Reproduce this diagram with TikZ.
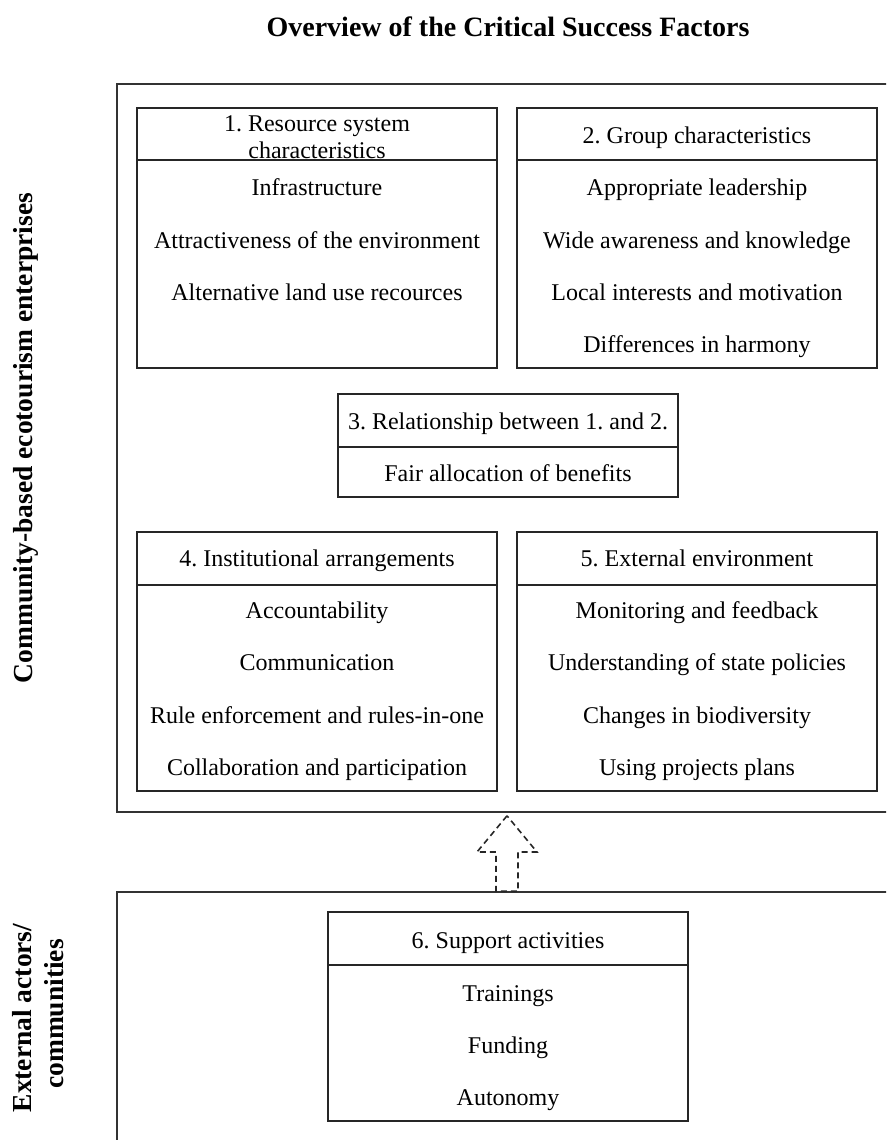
\documentclass[tikz,border=0pt]{standalone}
\usepackage{fontspec}
\setmainfont{Liberation Serif}
\frenchspacing
\begin{document}
\begin{tikzpicture}[x=1pt,y=-1pt,
  frame/.style={draw=black!80, line width=1.6pt, inner sep=0pt},
  box/.style={draw=black!85, line width=1.5pt, inner sep=0pt, fill=white},
  divider/.style={draw=black!85, line width=1.5pt},
  txt/.style={font=\fontsize{24}{27}\selectfont, inner sep=0pt, anchor=base},
  ttl/.style={font=\bfseries\fontsize{28}{32}\selectfont, inner sep=0pt, anchor=base},
  sidelbl/.style={font=\bfseries\fontsize{27.5}{32}\selectfont, inner sep=0pt, anchor=base},
  dasharrow/.style={draw=black!85, line width=1.6pt, dash pattern=on 6pt off 4pt, line join=miter}]
\useasboundingbox (0,0) rectangle (886,1140);
\clip (0,0) rectangle (886,1140);

% title and side labels
\node[ttl] (title) at (508,37) {Overview of the Critical Success Factors};
\node[sidelbl, rotate=90] (lblA) at (32,438) {Community-based ecotourism enterprises};
\node[sidelbl, rotate=90] (lblB1) at (31,1018) {External actors/};
\node[sidelbl, rotate=90] (lblB2) at (63,1014) {communities};

% outer frames (extend beyond the right / bottom edge)
\node[frame, minimum width=803pt, minimum height=728pt] (outerA) at (518.5,448) {};
\node[frame, minimum width=803pt, minimum height=308pt] (outerB) at (518.5,1046) {};

% box 1
\node[box, minimum width=360pt, minimum height=260pt] (b1) at (317,238) {};
\draw[divider] (b1.west |- 0,160) -- (b1.east |- 0,160);
\node[txt] (b1h1) at (317,131) {1. Resource system};
\node[txt] (b1h2) at (317,158) {characteristics};
\node[txt] (b1i1) at (317,195) {Infrastructure};
\node[txt] (b1i2) at (317,248) {Attractiveness of the environment};
\node[txt] (b1i3) at (317,300) {Alternative land use recources};

% box 2
\node[box, minimum width=360pt, minimum height=260pt] (b2) at (697,238) {};
\draw[divider] (b2.west |- 0,160) -- (b2.east |- 0,160);
\node[txt] (b2h) at (697,143) {2. Group characteristics};
\node[txt] (b2i1) at (697,195) {Appropriate leadership};
\node[txt] (b2i2) at (697,248) {Wide awareness and knowledge};
\node[txt] (b2i3) at (697,300) {Local interests and motivation};
\node[txt] (b2i4) at (697,352) {Differences in harmony};

% box 3
\node[box, minimum width=340pt, minimum height=103pt] (b3) at (508,445.5) {};
\draw[divider] (b3.west |- 0,447) -- (b3.east |- 0,447);
\node[txt] (b3h) at (508,429) {3. Relationship between 1. and 2.};
\node[txt] (b3i1) at (508,481) {Fair allocation of benefits};

% box 4
\node[box, minimum width=360pt, minimum height=259pt] (b4) at (317,661.5) {};
\draw[divider] (b4.west |- 0,585) -- (b4.east |- 0,585);
\node[txt] (b4h) at (317,566) {4. Institutional arrangements};
\node[txt] (b4i1) at (317,618) {Accountability};
\node[txt] (b4i2) at (317,670) {Communication};
\node[txt] (b4i3) at (317,723) {Rule enforcement and rules-in-one};
\node[txt] (b4i4) at (317,775) {Collaboration and participation};

% box 5
\node[box, minimum width=360pt, minimum height=259pt] (b5) at (697,661.5) {};
\draw[divider] (b5.west |- 0,585) -- (b5.east |- 0,585);
\node[txt] (b5h) at (697,566) {5. External environment};
\node[txt] (b5i1) at (697,618) {Monitoring and feedback};
\node[txt] (b5i2) at (697,670) {Understanding of state policies};
\node[txt] (b5i3) at (697,723) {Changes in biodiversity};
\node[txt] (b5i4) at (697,775) {Using projects plans};

% box 6
\node[box, minimum width=360pt, minimum height=209pt] (b6) at (508,1016.5) {};
\draw[divider] (b6.west |- 0,965) -- (b6.east |- 0,965);
\node[txt] (b6h) at (508,948) {6. Support activities};
\node[txt] (b6i1) at (508,1001) {Trainings};
\node[txt] (b6i2) at (508,1053) {Funding};
\node[txt] (b6i3) at (508,1105) {Autonomy};

% dashed block arrow from outerB up to outerA
\coordinate (tip) at ([yshift=-3pt]outerA.south -| 507,0);
\coordinate (foot) at (outerB.north -| 507,0);
\draw[dasharrow] (tip) -- ([xshift=-30pt]tip |- 0,852) -- ([xshift=-11pt]tip |- 0,852)
  -- ([xshift=-11pt]foot) -- ([xshift=11pt]foot) -- ([xshift=11pt]tip |- 0,852)
  -- ([xshift=30pt]tip |- 0,852) -- cycle;
\end{tikzpicture}
\end{document}
